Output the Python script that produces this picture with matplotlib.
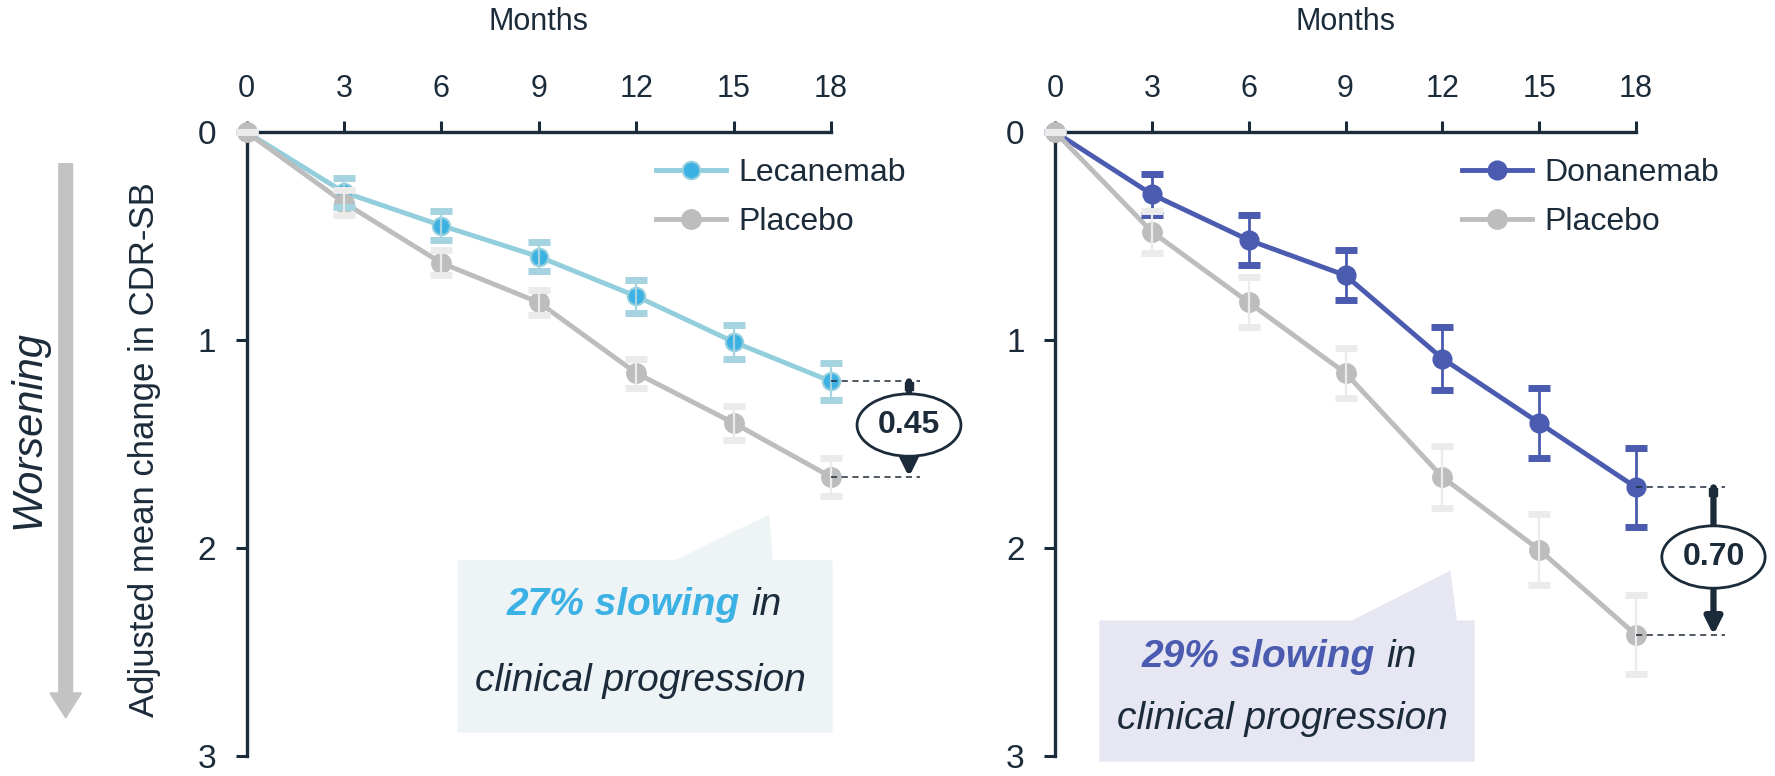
import matplotlib.pyplot as plt
from matplotlib.patches import Polygon, Ellipse, FancyArrow

plt.rcParams['font.family'] = ['Liberation Sans', 'DejaVu Sans']

# data
months = [0, 3, 6, 9, 12, 15, 18]
lecanemab = [0, 0.29, 0.45, 0.60, 0.79, 1.01, 1.20]
lecanemab_err = [0, 0.07, 0.07, 0.07, 0.08, 0.08, 0.09]
placebo_l = [0, 0.34, 0.63, 0.82, 1.16, 1.40, 1.66]
placebo_l_err = [0, 0.06, 0.06, 0.06, 0.07, 0.08, 0.09]
donanemab = [0, 0.30, 0.52, 0.69, 1.09, 1.40, 1.71]
donanemab_err = [0, 0.10, 0.12, 0.12, 0.15, 0.17, 0.19]
placebo_r = [0, 0.48, 0.82, 1.16, 1.66, 2.01, 2.42]
placebo_r_err = [0, 0.10, 0.12, 0.12, 0.15, 0.17, 0.19]
diff_labels = ['0.45', '0.70']
slowing = ['27% slowing', '29% slowing']

dark = '#1c2b3a'
grey = '#bdbdbd'
grey_err = '#ebebeb'
lec_line = '#93cedc'
lec_dot = '#3cb1e4'
lec_err = '#a6d3e0'
don = '#4a5bb0'

fig = plt.figure(figsize=(17.75, 7.76), dpi=100)
axL = fig.add_axes([0.1389, 0.0264, 0.3293, 0.8035])
axR = fig.add_axes([0.5944, 0.0264, 0.3273, 0.8035])


def style(ax):
    ax.set_xlim(0, 18)
    ax.set_ylim(3, 0)
    ax.xaxis.set_ticks_position('top')
    ax.xaxis.set_label_position('top')
    ax.set_xticks(months)
    ax.set_yticks([0, 1, 2, 3])
    for s in ['right', 'bottom']:
        ax.spines[s].set_visible(False)
    for s in ['top', 'left']:
        ax.spines[s].set_color(dark)
        ax.spines[s].set_linewidth(2.4)
    ax.tick_params(colors=dark, width=2.2, length=8)
    ax.tick_params(axis='x', labelsize=22, pad=12)
    ax.tick_params(axis='y', labelsize=24, pad=14)
    ax.set_xlabel('Months', fontsize=22, color=dark, labelpad=32)
    ax.set_facecolor('none')


def plot_placebo(ax, y, e):
    # placebo drawn over the treatment line, its pale caps on top
    line, = ax.plot(months, y, '-o', color=grey, lw=3.5, ms=14, zorder=3,
                    clip_on=False, label='Placebo')
    ax.errorbar(months, y, yerr=e, fmt='none', ecolor=grey_err,
                elinewidth=1.6, capsize=8, capthick=5, zorder=5, clip_on=False)
    return line


def gap_arrow(ax, x_end, y_top, y_bot, label):
    for yy in (y_top, y_bot):
        ax.plot([18, x_end + 0.35], [yy, yy], ls=(0, (4, 3)), color=dark,
                lw=1.1, clip_on=False, zorder=6)
    ax.plot([x_end], [y_top + 0.02], 's', color=dark, ms=6, clip_on=False,
            zorder=6)
    ax.annotate('', xy=(x_end, y_bot), xytext=(x_end, y_top),
                arrowprops=dict(arrowstyle='-|>,head_width=0.5,head_length=1.0',
                                color=dark, lw=4.5, shrinkA=0, shrinkB=0),
                annotation_clip=False, zorder=6)
    ym = (y_top + y_bot) / 2 - 0.02
    ax.add_patch(Ellipse((x_end, ym), 3.2, 0.30, facecolor='white',
                         edgecolor=dark, lw=2, clip_on=False, zorder=7))
    ax.text(x_end, ym, label, ha='center', va='center', fontsize=23,
            fontweight='bold', color=dark, zorder=8)


def callout(ax, box, tail, color, split, pct, pct_color):
    x0, x1, y0, y1 = box
    bx0, bx1, tx, ty = tail
    pts = [(x0, y0), (bx0, y0), (tx, ty), (bx1, y0), (x1, y0), (x1, y1), (x0, y1)]
    ax.add_patch(Polygon(pts, closed=True, facecolor=color, edgecolor='none',
                         clip_on=False, zorder=0))
    h = y1 - y0
    ax.text(split, y0 + h * 0.26, pct, ha='right', va='center',
            fontsize=28, fontweight='bold', style='italic', color=pct_color)
    ax.text(split + 0.35, y0 + h * 0.26, 'in', ha='left', va='center',
            fontsize=28, style='italic', color=dark)
    ax.text((x0 + x1) / 2 - 0.15, y0 + h * 0.70, 'clinical progression',
            ha='center', va='center', fontsize=28, style='italic', color=dark)


def legend(ax, handles):
    ax.legend(handles=handles, loc='upper left', bbox_to_anchor=(12.6, 0.125),
              bbox_transform=ax.transData, frameon=False, fontsize=23,
              handlelength=2.2, handletextpad=0.4, labelspacing=0.6,
              borderpad=0, borderaxespad=0, labelcolor=dark)


# left panel
style(axL)
callout(axL, (6.5, 18.05, 2.06, 2.89), (13.2, 16.2, 16.1, 1.84), '#eef3f6',
        15.2, slowing[0], lec_dot)
lec, = axL.plot(months, lecanemab, '-o', color=lec_line, lw=3.5, ms=12.5,
                markerfacecolor=lec_dot, markeredgecolor=lec_line,
                markeredgewidth=1.5, zorder=2, clip_on=False, label='Lecanemab')
axL.errorbar(months, lecanemab, yerr=lecanemab_err, fmt='none', ecolor=lec_err,
             elinewidth=1.6, capsize=8, capthick=5, zorder=4, clip_on=False)
plb_l = plot_placebo(axL, placebo_l, placebo_l_err)
gap_arrow(axL, 20.4, lecanemab[-1], placebo_l[-1], diff_labels[0])
legend(axL, [lec, plb_l])

fig.text(0.0815, 0.42, 'Adjusted mean change in CDR-SB', rotation=90,
         ha='center', va='center', fontsize=25, color=dark)

# worsening arrow
fig.add_artist(FancyArrow(0.037, 0.789, 0, -0.714, width=0.0077,
                          head_width=0.0178, head_length=0.032,
                          length_includes_head=True, color='#c3c3c3',
                          transform=fig.transFigure))
fig.text(0.016, 0.446, 'Worsening', rotation=90, ha='center', va='center',
         fontsize=30, style='italic', color=dark)

# right panel
style(axR)
callout(axR, (1.37, 13.0, 2.35, 3.03), (9.2, 12.45, 12.25, 2.11), '#e6e7f3',
        9.9, slowing[1], don)
dn, = axR.plot(months, donanemab, '-o', color=don, lw=3.5, ms=13.5, zorder=2,
               clip_on=False, label='Donanemab')
axR.errorbar(months, donanemab, yerr=donanemab_err, fmt='none', ecolor=don,
             elinewidth=2, capsize=8, capthick=5, zorder=4, clip_on=False)
plb_r = plot_placebo(axR, placebo_r, placebo_r_err)
gap_arrow(axR, 20.4, donanemab[-1], placebo_r[-1], diff_labels[1])
legend(axR, [dn, plb_r])

fig.savefig('out.png', dpi=100)
